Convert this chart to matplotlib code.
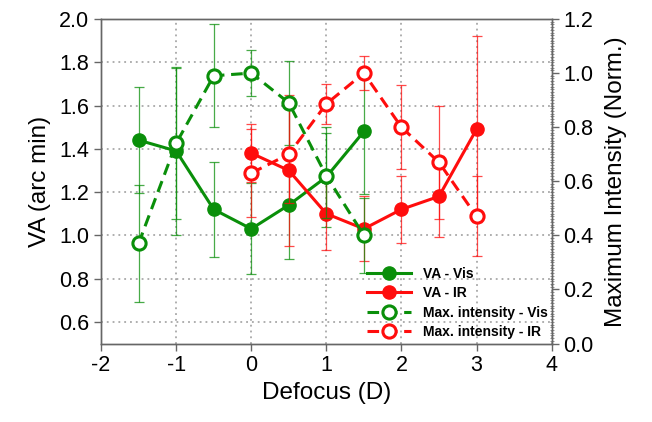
import numpy as np
import matplotlib
matplotlib.use('Agg')
import matplotlib.pyplot as plt
from matplotlib.ticker import MultipleLocator

plt.rcParams['font.family'] = ['Liberation Sans', 'DejaVu Sans']
plt.rcParams['axes.unicode_minus'] = False

# data
x_vis = [-1.5, -1, -0.5, 0, 0.5, 1, 1.5]
va_vis = [1.44, 1.39, 1.12, 1.03, 1.14, 1.27, 1.48]
va_vis_err = [0.245, 0.39, 0.22, 0.21, 0.25, 0.23, 0.29]
int_vis = [0.37, 0.74, 0.99, 1.00, 0.89, 0.62, 0.40]
int_vis_err = [0.215, 0.28, 0.19, 0.086, 0.155, 0.157, 0.139]

x_ir = [0, 0.5, 1, 1.5, 2, 2.5, 3]
va_ir = [1.38, 1.30, 1.10, 1.03, 1.12, 1.18, 1.49]
va_ir_err = [0.135, 0.35, 0.17, 0.15, 0.155, 0.186, 0.43]
int_ir = [0.63, 0.70, 0.886, 1.00, 0.80, 0.67, 0.47]
int_ir_err = [0.163, 0.18, 0.074, 0.063, 0.155, 0.21, 0.148]

green = '#0a8f0a'
red = '#ff0d0d'
axcol = '#666666'

fig = plt.figure(figsize=(6.52, 4.22), dpi=100)
ax = fig.add_axes([0.155, 0.186, 0.691, 0.769])
ax2 = ax.twinx()

eb = dict(fmt='none', elinewidth=0.9, capsize=3.6, capthick=0.9, alpha=0.75)
lw = 2.2
ms = 9.5

ax.errorbar(x_vis, va_vis, yerr=va_vis_err, ecolor=green, **eb)
ax.errorbar(x_ir, va_ir, yerr=va_ir_err, ecolor=red, **eb)
l1, = ax.plot(x_vis, va_vis, '-o', color=green, lw=lw, ms=ms, label='VA - Vis')
l2, = ax.plot(x_ir, va_ir, '-o', color=red, lw=lw, ms=ms, label='VA - IR')

ax2.errorbar(x_vis, int_vis, yerr=int_vis_err, ecolor=green, **eb)
ax2.errorbar(x_ir, int_ir, yerr=int_ir_err, ecolor=red, **eb)
l3, = ax2.plot(x_vis, int_vis, '--o', color=green, lw=lw, ms=ms, mfc='white',
               mew=lw, dashes=(3.8, 2.2), label='Max. intensity - Vis')
l4, = ax2.plot(x_ir, int_ir, '--o', color=red, lw=lw, ms=ms, mfc='white',
               mew=lw, dashes=(3.8, 2.2), label='Max. intensity - IR')

ax.set_xlim(-2, 4)
ax.set_ylim(0.5, 2.0)
ax2.set_ylim(0, 1.2)
ax.set_xticks(range(-2, 5))
ax.set_yticks(np.arange(0.6, 2.01, 0.2))
ax.set_yticklabels(['%.1f' % v for v in np.arange(0.6, 2.01, 0.2)])
ax2.set_yticks(np.arange(0, 1.21, 0.2))
ax2.set_yticklabels(['%.1f' % v for v in np.arange(0, 1.21, 0.2)])
ax2.yaxis.set_minor_locator(MultipleLocator(0.01))

ax.grid(True, linestyle=(0, (1.2, 2.6)), color='#999999', linewidth=1.1)
ax.set_axisbelow(True)

for a in (ax, ax2):
    for s in a.spines.values():
        s.set_color(axcol)
        s.set_linewidth(1.0)
    a.tick_params(colors=axcol, labelcolor='black', labelsize=15.5, length=5, width=1)
ax2.tick_params(which='minor', colors=axcol, length=2.5, width=0.5, direction='inout')

ax.set_xlabel('Defocus (D)', fontsize=17.5)
ax.set_ylabel('VA (arc min)', fontsize=17.5, labelpad=6)
ax2.set_ylabel('Maximum Intensity (Norm.)', fontsize=17.5, labelpad=8)

leg = ax2.legend(handles=[l1, l2, l3, l4], loc='lower right',
                 bbox_to_anchor=(1.0, 0.0), frameon=False, handlelength=3.2,
                 prop={'weight': 'bold', 'size': 10}, labelspacing=0.4,
                 borderaxespad=0.0, borderpad=0.3, handletextpad=0.8)

fig.savefig('out.png', dpi=100)
